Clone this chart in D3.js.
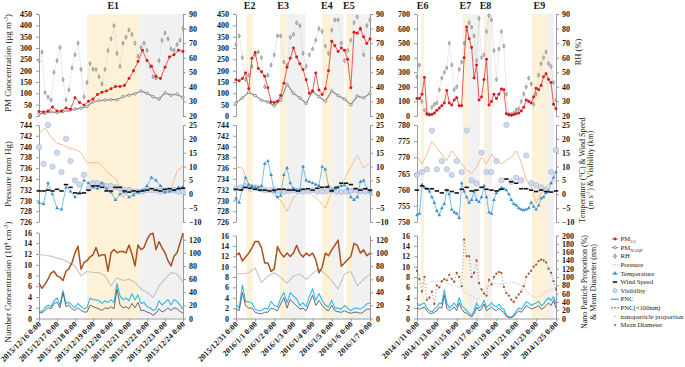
<!DOCTYPE html>
<html>
<head>
<meta charset="utf-8">
<script src="https://cdn.jsdelivr.net/npm/d3@7/dist/d3.min.js"></script>
<style>
  body { margin: 0; background: #fff; }
  text { font-family: "Liberation Serif", "Times New Roman", serif; }
</style>
</head>
<body>
<div id="chart"></div>
<script>
// ---- x tick labels, one list per column ----
const ticks1 = ["2015/12/16 0:00", "2015/12/17 0:00", "2015/12/18 0:00", "2015/12/19 0:00", "2015/12/20 0:00",
  "2015/12/21 0:00", "2015/12/22 0:00", "2015/12/23 0:00", "2015/12/24 0:00"];
const ticks2 = ["2015/12/31 0:00", "2016/1/1 0:00", "2016/1/2 0:00", "2016/1/3 0:00", "2016/1/4 0:00",
  "2016/1/5 0:00", "2016/1/6 0:00", "2016/1/7 0:00"];
const ticks3 = ["2014/1/11 0:00", "2014/1/13 0:00", "2014/1/15 0:00", "2014/1/17 0:00", "2014/1/19 0:00",
  "2014/1/21 0:00", "2014/1/23 0:00", "2014/1/25 0:00"];

// ---- events (yellow) and the periods after them (grey) ----
const events1 = [["E1", "2015/12/18 16:00", "2015/12/21 14:00"]];
const greys1 = [["2015/12/21 14:00", "2015/12/24 0:00"]];
const events2 = [["E2", "2015/12/31 13:00", "2015/12/31 21:00"], ["E3", "2016/1/2 7:00", "2016/1/2 15:00"],
  ["E4", "2016/1/4 12:00", "2016/1/5 0:00"], ["E5", "2016/1/5 18:00", "2016/1/6 1:00"]];
const greys2 = [["2016/1/2 15:00", "2016/1/3 15:00"], ["2016/1/5 0:00", "2016/1/5 15:00"], ["2016/1/6 1:00", "2016/1/7 0:00"]];
const events3 = [["E6", "2014/1/11 10:00", "2014/1/11 17:00"], ["E7", "2014/1/15 15:00", "2014/1/16 3:00"],
  ["E8", "2014/1/17 18:00", "2014/1/18 1:00"], ["E9", "2014/1/22 14:00", "2014/1/24 2:00"]];
const greys3 = [["2014/1/16 3:00", "2014/1/17 8:00"], ["2014/1/18 1:00", "2014/1/18 13:00"], ["2014/1/24 2:00", "2014/1/24 19:00"]];

// ---- series, each list evenly spread over its column's period ----
// column 1: 2015/12/16 - 2015/12/24
const pm25_1 = [20, 18, 22, 40, 22, 22, 35, 30, 80, 60, 48, 65, 75, 95, 105, 110, 120, 130, 130, 135, 165, 200, 240, 290, 245, 220, 175, 165, 215, 260, 270, 290, 285];
const pmx_1 = [10, 12, 18, 15, 20, 25, 30, 35, 42, 63, 68, 70, 72, 72, 85, 92, 98, 110, 100, 85, 75, 102, 92, 96, 82];
const rh_1 = [58, 64, 36, 33, 31, 50, 58, 67, 45, 31, 38, 53, 62, 70, 52, 33, 43, 56, 52, 52, 47, 42, 52, 65, 73,
  82, 63, 54, 70, 74, 79, 76, 70, 61, 67, 70, 65, 54, 47, 46, 58, 72, 77, 73, 66, 65, 69, 72, 80];
const pres_1 = [742.5, 743.4, 741.8, 740.6, 740.3, 739.7, 739.5, 738.9, 737, 737, 737, 735.7, 734.7, 733.8, 730.5,
  732.5, 731.5, 731.6, 732.5, 732, 732.3, 731.8, 732, 735.5, 736.3];
const temp_1 = [-3, -3.5, 4, 0, -5, -5.5, 2.5, 1, -1, 0.5, 5, 4, 2.5, 2, 4, 2, 0.8, -2, 0, 0.8, -1, -0.3, 0.8, 1.5, 3, 6, 5, 3, 0.8, 1, 1.5, 2.5, 2.6];
const wind_1 = [1.2, 1.2, 1.5, 1.2, 1.8, 1.2, 3.5, 2.5, 0.5, 0.3, 0.5, 1.5, 3, 3, 2.5, 1.2, 1.2, 2.5, 2.5, 1.2, 0.8, 1.2, 1, 1.2, 1.5, 2, 1.5, 1.2, 1.8, 2, 1.5, 2, 2.2];
const vis_1 = [17, 11, 25, 10, 15, 8, 20, 12, 5, 3.5, 7, 2, 4, 4, 3.5, 3, 3, 2.6, 2, 1.5, 1.5, 1, 1, 1, 1.5, 1.5, 1.5, 1, 1.2, 1.5, 1.5, 1, 1];
const pnc_1 = [1.5, 1.3, 2, 2.5, 2.2, 3.3, 3.8, 2.5, 5.2, 2.8, 3, 2.5, 2, 2.8, 2.2, 1.8, 2, 3.8, 3.5, 3.5, 3.3, 2.8, 3.3, 3, 3.5,
  3, 6.5, 4.2, 3.5, 3.8, 3.3, 4.6, 3.5, 4.4, 2.8, 3, 2.2, 2, 1.5, 1.8, 3.3, 2.5, 3, 3.5, 2.5, 3.5, 3.2, 2.5, 1.8];
const pnc100_1 = [1.2, 1, 1.5, 2, 1.8, 2.8, 3, 2, 4.8, 2.2, 2.5, 1.8, 1.5, 2, 1.5, 1.2, 1.2, 2.5, 2.2, 2, 1.8, 1.5, 2, 1.8, 2.2,
  1.8, 5.5, 2.5, 2, 2.2, 1.8, 2.8, 2, 3, 1.5, 1.5, 1.2, 1, 0.6, 1, 1.8, 1.2, 1.5, 2, 1.5, 2, 1.8, 1.3, 1];
const nano_1 = [98, 96, 95, 92, 90, 85, 80, 65, 72, 70, 70, 65, 50, 62, 58, 60, 55, 45, 40, 32, 50, 60, 70, 68, 55];
const diam_1 = [54, 46, 52, 60, 69, 72, 65, 63, 58, 72, 76, 85, 100, 110, 75, 85, 88, 94, 97, 108, 95, 97, 97, 72, 100,
  105, 100, 102, 102, 100, 112, 98, 80, 112, 105, 108, 120, 128, 130, 105, 117, 108, 100, 88, 80, 95, 100, 115, 130];

// column 2: 2015/12/31 - 2016/1/7
const pm25_2 = [160, 155, 165, 190, 120, 255, 280, 210, 195, 175, 125, 62, 60, 65, 90, 145, 215, 255, 300, 260, 230, 205,
  160, 100, 110, 190, 115, 95, 120, 200, 330, 310, 285, 300, 290, 250, 125, 370, 365, 385, 350, 320, 340];
const pmx_2 = [57, 80, 105, 90, 70, 62, 45, 70, 140, 100, 80, 55, 110, 85, 65, 110, 90, 75, 50, 88, 80, 100];
const rh_2 = [69, 75, 60, 45, 48, 54, 62, 64, 60, 40, 48, 55, 62, 75, 75, 57, 55, 74, 76, 84, 82, 63, 54, 62, 66, 72,
  80, 78, 68, 63, 79, 86, 86, 70, 58, 65, 72, 84, 88, 80, 62, 82, 86];
const pres_2 = [736.2, 736, 733, 732, 731.6, 732, 731, 730, 728, 730.5, 731.6, 732, 731, 730, 728.6, 731.6, 732.5, 734, 736.2, 738.4, 736, 737];
const temp_2 = [-1.5, -3, 2, 6, 3.5, 3, 2.5, 2.5, 3, 11, 12, 7, 1, -1, -0.5, 7, 9.5, 4, 2, 1.5, 1.5, 10, 5, 4.5, 4, 3.5,
  3, 10, 9, 3, 1.5, 2, 2.5, 3, 3.3, 2, -1, -2, -1, 4.5, 5, 2, 1];
const wind_2 = [1.8, 1.5, 2.5, 2.2, 1.8, 1.5, 1.5, 1.2, 1.5, 1.8, 1.8, 1.5, 1.5, 1.2, 1.8, 2, 1.5, 2.2, 2.5, 2.6, 1.2, 2.5, 4, 4, 3.5, 2, 1.5, 2, 1.5];
const vis_2 = [2, 2.5, 3, 2, 2.5, 2, 1.5, 1.5, 1.5, 1.2, 1, 1.2, 1.5, 1.2, 1, 1.2, 1.5, 1, 1, 1.2, 1.5, 1, 0.8, 1, 1.2, 1.5, 1.2, 1, 1];
const pnc_2 = [2.8, 2, 6.5, 3.3, 3.2, 3, 1.8, 1.5, 1.5, 2, 1.8, 3.3, 2.5, 2.2, 3.9, 5, 3, 5, 4.3, 3.8, 2.5, 3, 2.3, 4.3,
  5.7, 3.5, 4.8, 3.5, 2.5, 2.2, 3.5, 2, 2, 1.8, 2.5, 2, 1.5, 2, 2, 1.8, 2.2, 2.8, 3];
const pnc100_2 = [1.8, 1.5, 5, 2.5, 2, 2, 1.2, 1, 0.9, 1.2, 1.2, 2, 1.8, 1.5, 2.8, 4, 2, 3.7, 3, 2.5, 1.8, 2, 1.5, 3,
  4.5, 2.5, 3.5, 2.5, 1.8, 1.5, 2.5, 1.5, 1.3, 1.2, 1.5, 1.2, 1, 1.2, 1.2, 1, 1.3, 1.8, 1.8];
const nano_2 = [69, 68, 70, 77, 55, 65, 70, 63, 54, 65, 68, 60, 69, 76, 68, 58, 45, 68, 72, 50, 60, 68];
const diam_2 = [97, 100, 88, 94, 100, 108, 118, 118, 108, 85, 85, 72, 76, 110, 100, 94, 100, 95, 100, 112, 100, 94, 100,
  96, 100, 90, 70, 78, 100, 96, 105, 112, 120, 80, 85, 90, 95, 115, 112, 100, 105, 96, 100];

// column 3: 2014/1/11 - 2014/1/25
const pm25_3 = [120, 120, 150, 265, 15, 8, 10, 20, 40, 55, 70, 90, 175, 90, 75, 110, 125, 70, 70, 400, 610, 530, 470, 260,
  350, 110, 130, 250, 390, 75, 100, 150, 120, 150, 185, 180, 15, 8, 5, 10, 15, 20, 35, 60, 110, 100, 90, 130, 190, 180,
  210, 270, 290, 250, 230, 80, 50];
const rh_3 = [47, 55, 30, 24, 21, 21, 26, 28, 29, 38, 46, 50, 53, 70, 55, 38, 40, 52, 57, 70, 79, 84, 81, 75, 58, 87, 60,
  62, 78, 89, 86, 65, 45, 66, 78, 68, 35, 21, 21, 22, 24, 25, 30, 35, 40, 46, 42, 28, 35, 48, 56, 60, 64, 56, 54, 43, 31];
const pres_3 = [770.5, 768, 771, 775, 773, 771, 769, 772, 770, 768, 766, 765, 767, 770, 768, 771, 769, 768, 769, 770, 772,
  768.5, 763, 761, 756, 759, 761, 762, 763];
const temp_3 = [-7.5, -7, 3.5, 2.5, 2, 1, -1, -3, -6, -7.5, -5, -3.5, 1.5, 0, -5.5, -6.5, -7, -8.5, 4, 1, -1, -3, -2, 1,
  -2, -2.8, -1, 3, -1, -6.5, -7, -2, 0.5, 1.5, 2.3, 2, 1.5, 0, -2, -3.5, -4, -5, -5.5, -5.7, -5.5, -5, -3, -4.5, -5.5,
  -4, -1.5, -1, 0.5, 1, 4, 6, 8];
const wind_3 = [1.5, 3, 2, 2, 1.2, 0.5, 1.5, 1, 0.5, 1.8, 2.5, 1.2, 1.5, 2.5, 1.8, 1.5, 1.2, 1.8, 5.5, 4.5, 4, 2, 2, 1.5, 1, 1.5, 1, 0.8, 1.2];
const vis_3 = [7, 8, 9, 23, 9, 12, 9, 7, 12, 8, 23, 5, 4, 15, 8, 8, 12, 5, 25, 4.5, 6, 5, 14, 4, 3.3, 2.5, 1.5, 8, 16];
const pnc_3 = [3, 2.5, 2.8, 3, 2, 1.5, 1.3, 1.8, 2.2, 3, 2.8, 5.5, 3, 2, 2.5, 3, 2.2, 4, 2.5, 2, 1.5, 1, 0.6, 1.5, 3, 2,
  2.5, 3.5, 2.2, 2.5, 3, 2.5, 2.2, 2.8, 2, 1.8, 0.7, 0.3, 0.3, 0.6, 1.5, 2, 1.8, 2.5, 3.2, 3, 2.5, 2.8, 3, 3.3, 2.5, 2.8,
  3.5, 4, 3.5, 4.2, 2.8];
const pnc100_3 = [2, 1.8, 2, 2.2, 1.5, 1, 1, 1.2, 1.5, 2.2, 2, 4.5, 2, 1.5, 1.8, 2.2, 1.5, 3, 1.8, 1.2, 1, 0.6, 0.3, 1,
  2.2, 1.5, 1.8, 2.8, 1.5, 1.8, 2.2, 1.8, 1.5, 2, 1.5, 1.2, 0.4, 0.2, 0.2, 0.4, 1, 1.5, 1.2, 1.8, 2.5, 2.2, 1.8, 2, 2.2,
  2.5, 1.8, 2, 2.5, 3, 2.5, 3.5, 2];
const nano_3 = [80, 85, 82, 90, 88, 90, 85, 80, 78, 72, 60, 55, 45, 55, 75, 80, 85, 82, 85, 88, 86, 80, 65, 55, 50, 55, 65, 70, 75];
const diam_3 = [115, 95, 65, 100, 45, 50, 65, 35, 80, 75, 90, 95, 92, 105, 95, 88, 110, 100, 78, 190, 150, 150, 100, 110,
  140, 85, 70, 60, 55, 93, 82, 100, 108, 112, 110, 76, 62, 55, 45, 40, 50, 58, 65, 78, 100, 108, 115, 125, 130, 138, 142,
  140, 135, 120, 110, 90, 70];

// legend labels ([text, subscript])
const legendNames = [["PM", "2.5"], ["PM", "NAQP"], ["RH"], ["Pressure"], ["Temperature"], ["Wind Speed"], ["Visibility"],
  ["PNC"], ["PNC(<100nm)"], ["nanoparticle proportion"], ["Mean Diameter"]];

// ---------------------------------------------------------------
const svg = d3.select("#chart").append("svg").attr("width", 685).attr("height", 367);
const parse = d3.timeParse("%Y/%m/%d %H:%M");

const TOP = [116, 14], MID = [222, 125], BASE = 318.5, SHADE_TOP = 14;

const columns = [
  { ticks: ticks1, range: [39, 183], events: events1, greys: greys1, pmMax: 450, pmStep: 50,
    presDom: [726, 744], presStep: 2, botTop: 232.5, rightMax: 131, rightTicks: d3.range(0, 121, 20), scatter: false,
    pm25: pm25_1, pmx: pmx_1, rh: rh_1, pres: pres_1, temp: temp_1, wind: wind_1, vis: vis_1,
    pnc: pnc_1, pnc100: pnc100_1, nano: nano_1, diam: diam_1 },
  { ticks: ticks2, range: [236, 370], events: events2, greys: greys2, pmMax: 450, pmStep: 50,
    presDom: [726, 744], presStep: 2, botTop: 235.5, rightMax: 127, rightTicks: d3.range(0, 121, 20), scatter: false,
    pm25: pm25_2, pmx: pmx_2, rh: rh_2, pres: pres_2, temp: temp_2, wind: wind_2, vis: vis_2,
    pnc: pnc_2, pnc100: pnc100_2, nano: nano_2, diam: diam_2 },
  { ticks: ticks3, range: [417, 556], events: events3, greys: greys3, pmMax: 700, pmStep: 100,
    presDom: [750, 780], presStep: 5, botTop: 235.5, rightMax: 200, rightTicks: d3.range(0, 201, 20), scatter: true,
    pm25: pm25_3, pmx: null, rh: rh_3, pres: pres_3, temp: temp_3, wind: wind_3, vis: vis_3,
    pnc: pnc_3, pnc100: pnc100_3, nano: nano_3, diam: diam_3 }
];

function axis(gen, tx, ty) {
  const g = svg.append("g").attr("transform", `translate(${tx},${ty})`).call(gen);
  g.attr("font-family", null).attr("font-size", null);
  g.select(".domain").attr("stroke", "#9a9a9a");
  g.selectAll(".tick line").attr("stroke", "#9a9a9a");
  g.selectAll(".tick text").attr("fill", "#1a1a1a").attr("font-size", 8).attr("font-weight", "bold");
  return g;
}

columns.forEach(c => {
  const t0 = parse(c.ticks[0]), t1 = parse(c.ticks[c.ticks.length - 1]);
  const x = d3.scaleTime().domain([t0, t1]).range(c.range);
  const along = vals => vals.map((v, i) => ({ t: new Date(+t0 + i * (t1 - t0) / (vals.length - 1)), v }));

  const yPM = d3.scaleLinear().domain([0, c.pmMax]).range(TOP);
  const yRH = d3.scaleLinear().domain([20, 90]).range(TOP);
  const yP = d3.scaleLinear().domain(c.presDom).range(MID);
  const yT = d3.scaleLinear().domain([-10, 25]).range(MID);
  const yN = d3.scaleLinear().domain([0, 16]).range([BASE, c.botTop]);
  const yR = d3.scaleLinear().domain([0, c.rightMax]).range([BASE, c.botTop]);

  // shaded periods
  c.greys.forEach(([a, b]) => {
    svg.append("rect").attr("x", x(parse(a))).attr("y", SHADE_TOP)
      .attr("width", x(parse(b)) - x(parse(a))).attr("height", BASE - SHADE_TOP).attr("fill", "#f1f1f1");
  });
  c.events.forEach(([name, a, b]) => {
    svg.append("rect").attr("x", x(parse(a))).attr("y", SHADE_TOP)
      .attr("width", x(parse(b)) - x(parse(a))).attr("height", BASE - SHADE_TOP).attr("fill", "#fdf2d8");
    svg.append("text").attr("x", (x(parse(a)) + x(parse(b))) / 2).attr("y", 9)
      .attr("text-anchor", "middle").attr("font-size", 10).attr("font-weight", "bold").attr("fill", "#1a1a1a").text(name);
  });

  // axes
  const L = (y, vals) => d3.axisLeft(y).tickValues(vals).tickSize(3).tickSizeOuter(0).tickPadding(4);
  const R = (y, vals) => d3.axisRight(y).tickValues(vals).tickSize(3).tickSizeOuter(0).tickPadding(3);
  axis(L(yPM, d3.range(0, c.pmMax + 1, c.pmStep)), c.range[0], 0);
  axis(R(yRH, d3.range(20, 91, 10)), c.range[1], 0);
  axis(L(yP, d3.range(c.presDom[0], c.presDom[1] + 0.1, c.presStep)), c.range[0], 0);
  axis(R(yT, d3.range(-10, 26, 5)), c.range[1], 0);
  axis(L(yN, d3.range(0, 17, 2)), c.range[0], 0);
  axis(R(yR, c.rightTicks), c.range[1], 0);
  const xa = axis(d3.axisBottom(x).tickValues(c.ticks.map(parse)).tickFormat((d, i) => c.ticks[i])
    .tickSize(3).tickSizeOuter(0), 0, BASE);
  xa.selectAll(".tick text").attr("text-anchor", "end").attr("x", -3).attr("y", 3)
    .attr("dy", "0.35em").attr("transform", "rotate(-45)");

  const ln = ys => d3.line().x(d => x(d.t)).y(d => ys(d.v));
  const drawLine = (vals, ys, stroke, w, dash) => svg.append("path").datum(along(vals))
    .attr("fill", "none").attr("stroke", stroke).attr("stroke-width", w)
    .attr("stroke-dasharray", dash || null).attr("stroke-linejoin", "round").attr("d", ln(ys));
  const drawSym = (vals, ys, type, size, fill, stroke, sw) => svg.append("g").selectAll("path")
    .data(along(vals)).join("path")
    .attr("transform", d => `translate(${x(d.t)},${ys(d.v)})`)
    .attr("d", d3.symbol(type, size)).attr("fill", fill)
    .attr("stroke", stroke || "none").attr("stroke-width", sw || 0);

  // top: RH, PM(model), PM2.5
  drawLine(c.rh, yRH, "#dadada", 0.6);
  drawSym(c.rh, yRH, d3.symbolDiamond, 5, "#c4c4c4", "#666", 0.5);
  if (c.pmx) {
    drawLine(c.pmx, yPM, "#8c8c8c", 1.2);
    drawSym(c.pmx, yPM, d3.symbolCircle, 6, "#dcdcdc", "#777", 0.6);
  }
  drawLine(c.pm25, yPM, "#e8463c", 0.9);
  drawSym(c.pm25, yPM, d3.symbolCircle, 7, "#d7191c");

  // middle: pressure, visibility, temperature, wind
  drawLine(c.pres, yP, "#f6b68a", 0.9);
  drawSym(c.vis, yT, d3.symbolCircle, 22, "#ccd5ec", "#a9b7d9", 0.8).attr("opacity", 0.9);
  drawLine(c.temp, yT, "#5bb0e3", 0.8);
  drawSym(c.temp, yT, d3.symbolTriangle, 6, "#3b8fd1");
  svg.append("g").selectAll("line").data(along(c.wind)).join("line")
    .attr("x1", d => x(d.t) - 2.2).attr("x2", d => x(d.t) + 2.2)
    .attr("y1", d => yT(d.v)).attr("y2", d => yT(d.v))
    .attr("stroke", "#111").attr("stroke-width", 1.6);

  // bottom: nano proportion, mean diameter, PNC, PNC(<100nm)
  if (c.scatter) {
    drawLine(c.nano, yR, "#c8c8c8", 1.2, "1,1.5");
    drawLine(c.diam, yR, "#b8683c", 1, "0.8,2.5");
    drawSym(c.diam, yR, d3.symbolCircle, 4, "#a0522d");
  } else {
    drawLine(c.nano, yR, "#c4c4c4", 1.1);
    drawLine(c.diam, yR, "#a5521f", 1.5);
  }
  drawLine(c.pnc, yN, "#2db8ee", 1.1);
  drawLine(c.pnc100, yN, "#5a5a5a", 0.9);
});

// ---- axis titles ----
function title(x, y, parts, size) {
  const t = svg.append("text").attr("transform", `translate(${x},${y}) rotate(-90)`)
    .attr("text-anchor", "middle").attr("font-size", size).attr("fill", "#222");
  let shift = 0;
  parts.forEach(p => {
    const [txt, kind] = Array.isArray(p) ? p : [p, null];
    const target = kind === "sup" ? -3 : 0;
    t.append("tspan").attr("dy", target - shift).attr("font-size", kind ? size * 0.65 : null).text(txt);
    shift = target;
  });
}
title(11, 63, ["PM Concentration (μg m", ["-3", "sup"], ")"], 9);
title(11, 174, ["Pressure (mm Hg)"], 9);
title(11, 282, ["Number Concentration (10", ["4", "sup"], " cm", ["-3", "sup"], ")"], 9);
title(581, 52, ["RH (%)"], 8.5);
title(585, 170, ["Temperature (°C) & Wind Speed"], 8);
title(593, 170, ["(m s", ["-1", "sup"], ") & Visibility (km)"], 8);
title(587, 282, ["Nano Particle Proportion (%)"], 8);
title(596, 282, ["& Mean Diameter (nm)"], 8);

// ---- legend ----
const lx = 615, ly0 = 239, ldy = 8.6;
legendNames.forEach((name, i) => {
  const y = ly0 + i * ldy;
  const t = svg.append("text").attr("x", 620.5).attr("y", y).attr("dy", "0.33em")
    .attr("font-size", 6.7).attr("fill", "#222");
  t.append("tspan").text(name[0]);
  if (name[1]) t.append("tspan").attr("dy", 2).attr("font-size", 4.5).text(name[1]);

  const g = svg.append("g").attr("transform", `translate(${lx},${y})`);
  const seg = (stroke, w, dash, len = 3) => g.append("line").attr("x1", -len).attr("x2", len)
    .attr("stroke", stroke).attr("stroke-width", w).attr("stroke-dasharray", dash || null);
  const sym = (type, size, fill, stroke, sw) => g.append("path").attr("d", d3.symbol(type, size))
    .attr("fill", fill).attr("stroke", stroke || "none").attr("stroke-width", sw || 0);
  if (i === 0) { seg("#e8463c", 0.9); sym(d3.symbolCircle, 7, "#d7191c"); }
  if (i === 1) { seg("#8c8c8c", 1.2); sym(d3.symbolCircle, 6, "#dcdcdc", "#777", 0.6); }
  if (i === 2) { seg("#dadada", 0.7); sym(d3.symbolDiamond, 7, "#c4c4c4", "#666", 0.5); }
  if (i === 3) seg("#f6b68a", 1, "1.5,1");
  if (i === 4) { seg("#5bb0e3", 0.8); sym(d3.symbolTriangle, 8, "#3b8fd1"); }
  if (i === 5) seg("#111", 1.6, null, 2.2);
  if (i === 6) sym(d3.symbolCircle, 14, "#ccd5ec", "#a9b7d9", 0.8);
  if (i === 7) seg("#2db8ee", 1.3, null, 4);
  if (i === 8) seg("#5a5a5a", 0.9, "2,1", 4);
  if (i === 9) sym(d3.symbolCircle, 2, "#bbb");
  if (i === 10) sym(d3.symbolCircle, 3, "#a0522d");
});
</script>
</body>
</html>
